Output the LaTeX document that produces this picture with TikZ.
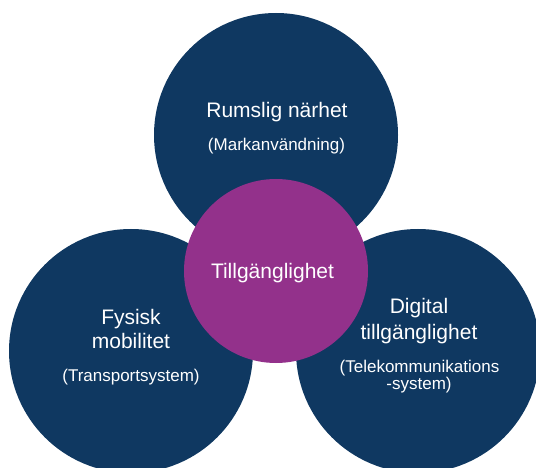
\documentclass[tikz,border=0pt]{standalone}
\usepackage{fontspec}
\setmainfont{Liberation Sans}
\definecolor{navy}{HTML}{0F3861}
\definecolor{plum}{HTML}{93318B}
\begin{document}
\begin{tikzpicture}[x=1pt,y=-1pt,
  disc/.style={circle, fill=navy, draw=none, minimum size=244pt, inner sep=0pt},
  hub/.style={circle, fill=plum, draw=none, minimum size=184pt, inner sep=0pt},
  title/.style={text=white, font=\fontsize{21}{25}\selectfont, anchor=base, inner sep=0pt},
  sub/.style={text=white, font=\fontsize{17}{20}\selectfont, anchor=base, inner sep=0pt}]
\useasboundingbox (0,0) rectangle (536,468);
\clip (0,0) rectangle (536,468);
% three outer circles
\node[disc] (near) at (276,135) {};
\node[disc] (mob)  at (131,351) {};
\node[disc] (dig)  at (418,351) {};
% central circle
\node[hub] (acc) at (276,271) {};
% labels
\node[title] (nearA) at (277,118) {Rumslig närhet};
\node[sub]   (nearB) at (276.5,151) {(Markanvändning)};
\node[title] (accA)  at (272.5,278) {Tillgänglighet};
\node[title] (mobA)  at (131,324) {Fysisk};
\node[title] (mobB)  at (131,348) {mobilitet};
\node[sub]   (mobC)  at (131,381) {(Transportsystem)};
\node[title] (digA)  at (419,313) {Digital};
\node[title] (digB)  at (419,339) {tillgänglighet};
\node[sub]   (digC)  at (419.5,372) {(Telekommunikations};
\node[sub]   (digD)  at (419,389) {-system)};
\end{tikzpicture}
\end{document}
